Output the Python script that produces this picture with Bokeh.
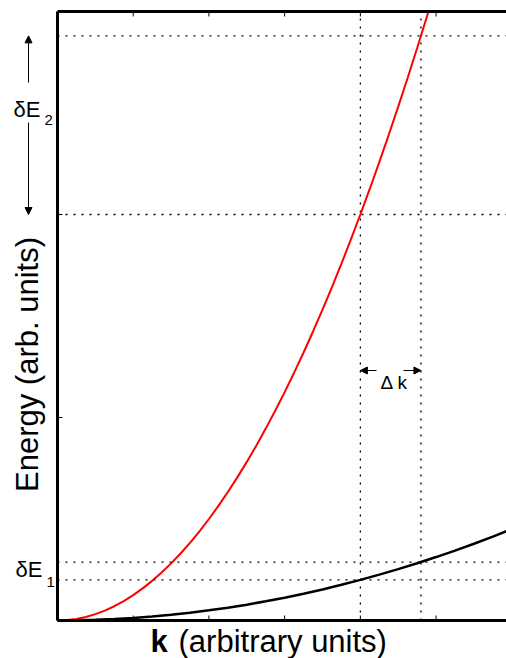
from bokeh.plotting import figure
from bokeh.models import Range1d, Label, Arrow, NormalHead
from bokeh.embed import file_html
from bokeh.resources import INLINE

# Dispersion curves E(k): steep (red) and shallow (black) bands
k_fast = [0.0, 0.125, 0.25, 0.375, 0.5, 0.625, 0.75, 0.875, 1.0, 1.125, 1.25,
          1.375, 1.5, 1.625, 1.75, 1.875, 2.0, 2.125, 2.25, 2.375, 2.5, 2.625,
          2.75, 2.875, 3.0, 3.125, 3.25, 3.375, 3.5, 3.625, 3.75, 3.875, 4.0,
          4.125, 4.25, 4.375, 4.5, 4.625, 4.75, 4.875, 4.9]
E_fast = [0.0, 0.0020, 0.0078, 0.0176, 0.0313, 0.0488, 0.0703, 0.0957, 0.125,
          0.1582, 0.1953, 0.2363, 0.2813, 0.3301, 0.3828, 0.4395, 0.5, 0.5645,
          0.6328, 0.7051, 0.7813, 0.8613, 0.9453, 1.0332, 1.125, 1.2207, 1.3203,
          1.4238, 1.5313, 1.6426, 1.7578, 1.8770, 2.0, 2.1270, 2.2578, 2.3926,
          2.5313, 2.6738, 2.8203, 2.9707, 3.0]
k_slow = [0.0, 0.25, 0.5, 0.75, 1.0, 1.25, 1.5, 1.75, 2.0, 2.25, 2.5, 2.75,
          3.0, 3.25, 3.5, 3.75, 4.0, 4.25, 4.5, 4.75, 5.0, 5.25, 5.5, 5.75, 6.0]
E_slow = [0.0, 0.0008, 0.0031, 0.0070, 0.0125, 0.0195, 0.0281, 0.0383, 0.05,
          0.0633, 0.0781, 0.0945, 0.1125, 0.1320, 0.1531, 0.1758, 0.2, 0.2258,
          0.2531, 0.2820, 0.3125, 0.3445, 0.3781, 0.4133, 0.45]

# The interval Δk and the energy spreads it produces on each band
k_marks = [4.0, 4.8]
E_fast_marks = [2.0, 2.88]
E_slow_marks = [0.2, 0.288]

x_ticks = [1, 2, 3, 4, 5]
y_ticks = [1, 2]

K_MAX, E_MAX = 5.93, 3.0
W, H = 506, 658
LEFT, TOP, BOTTOM = 57, 11, 38
FONT = "Liberation Sans"

# the plotting box sits inside a canvas-wide frame so that the
# titles and annotations around it are not clipped
PX_K = (W - LEFT) / K_MAX
PX_E = (H - TOP - BOTTOM) / E_MAX

p = figure(width=W, height=H, output_backend="svg", toolbar_location=None,
           x_range=Range1d(-LEFT / PX_K, K_MAX),
           y_range=Range1d(-BOTTOM / PX_E, E_MAX + TOP / PX_E),
           x_axis_type=None, y_axis_type=None,
           min_border_left=0, min_border_right=0,
           min_border_top=0, min_border_bottom=0)
p.outline_line_color = None
p.grid.visible = False
p.background_fill_color = "white"
p.border_fill_color = "white"

def dx(px):
    return (px - LEFT) / PX_K
def dy(py):
    return (H - BOTTOM - py) / PX_E

# dotted guide lines
dot = dict(line_color="black", line_width=1.3, line_dash="2 6")
p.segment(x0=k_marks, y0=[0] * len(k_marks), x1=k_marks, y1=[E_MAX] * len(k_marks), **dot)
levels = E_fast_marks + E_slow_marks
p.segment(x0=[0] * len(levels), y0=levels, x1=[K_MAX] * len(levels), y1=levels, **dot)

p.line(k_fast, E_fast, line_color="#ff0000", line_width=2)
p.line(k_slow, E_slow, line_color="black", line_width=2.5)

# box: left, bottom and top edges
p.segment(x0=[0, 0, 0], y0=[0, 0, E_MAX], x1=[0, K_MAX, K_MAX], y1=[E_MAX, 0, E_MAX],
          line_color="black", line_width=3)

# inward tick marks
tk = 5
nx = len(x_ticks)
p.segment(x0=x_ticks, y0=[0] * nx, x1=x_ticks, y1=[tk / PX_E] * nx,
          line_color="black", line_width=1)
p.segment(x0=x_ticks, y0=[E_MAX] * nx, x1=x_ticks, y1=[E_MAX - tk / PX_E] * nx,
          line_color="black", line_width=1)
ny = len(y_ticks)
p.segment(x0=[0] * ny, y0=y_ticks, x1=[tk / PX_K] * ny, y1=y_ticks,
          line_color="black", line_width=1)

def lab(x, y, text, size, **kw):
    p.add_layout(Label(x=x, y=y, text=text, text_font=FONT,
                       text_font_size=f"{size}px", text_color="black", **kw))

# axis titles
lab(dx(150), dy(641), "k", 31, text_font_style="bold", text_baseline="alphabetic")
lab(dx(178), dy(641), "(arbitrary units)", 31, text_baseline="alphabetic")
lab(dx(27), dy(364), "Energy (arb. units)", 31, angle=1.5708,
    text_align="center", text_baseline="middle")

# δE2 with its double arrow
lab(dx(13), dy(109), "δE", 22, text_baseline="alphabetic")
lab(dx(44), dy(119), "2", 15, text_baseline="alphabetic")
head = dict(size=7, fill_color="black", line_color="black")
p.add_layout(Arrow(x_start=dx(28), y_start=dy(82), x_end=dx(28), y_end=E_fast_marks[1],
                   end=NormalHead(**head), line_width=1))
p.add_layout(Arrow(x_start=dx(28), y_start=dy(122), x_end=dx(28), y_end=E_fast_marks[0],
                   end=NormalHead(**head), line_width=1))

# δE1
lab(dx(15), dy(569), "δE", 22, text_baseline="alphabetic")
lab(dx(46), dy(581), "1", 15, text_baseline="alphabetic")

# Δk with arrows pointing at the two k values
lab(dx(380), dy(382), "Δ k", 19, text_baseline="alphabetic")
p.add_layout(Arrow(x_start=dx(376), y_start=dy(370), x_end=k_marks[0], y_end=dy(370),
                   end=NormalHead(**head), line_width=1))
p.add_layout(Arrow(x_start=dx(403), y_start=dy(370), x_end=k_marks[1], y_end=dy(370),
                   end=NormalHead(**head), line_width=1))

open("out.html", "w").write(file_html(p, INLINE))
